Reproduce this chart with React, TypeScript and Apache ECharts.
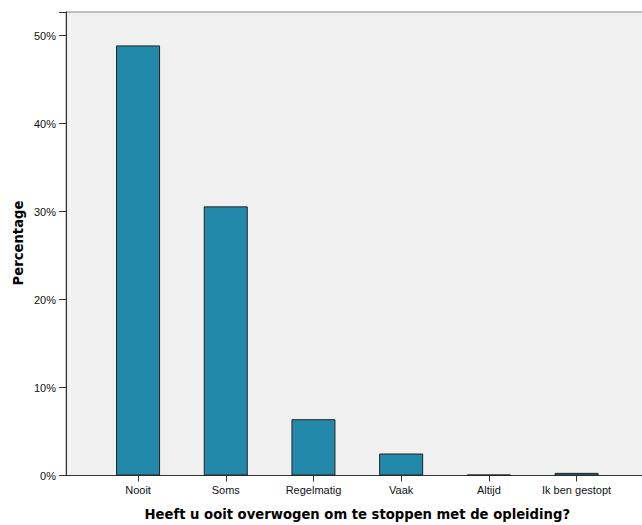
import React, { useEffect, useRef } from "react";
import * as echarts from "echarts";

const categories = ["Nooit", "Soms", "Regelmatig", "Vaak", "Altijd", "Ik ben gestopt"];
const percentages = [48.9, 30.6, 6.4, 2.5, 0.1, 0.3];
const yTicks = [0, 10, 20, 30, 40, 50];

const FONT = "'Liberation Sans', Arial, sans-serif";
const TITLE_FONT = "'DejaVu Sans', Verdana, sans-serif";

export default function App() {
  const ref = useRef<HTMLDivElement>(null);
  useEffect(() => {
    if (!ref.current) return;
    const chart = echarts.init(ref.current, null, { renderer: "svg" });
    const yMax = 52.7;
    chart.setOption({
      animation: false,
      backgroundColor: "#ffffff",
      grid: [
        {
          left: 66, top: 12, right: -3, bottom: 49.5, outerBoundsMode: "none", containLabel: false,
          show: true, backgroundColor: "#f0f0f0", borderColor: "#8a8a8a", borderWidth: 1,
        },
        { left: 94.2, top: 12, right: 21.6, bottom: 49.5, outerBoundsMode: "none", containLabel: false },
      ],
      xAxis: [
        {
          gridIndex: 0, type: "value", min: 0, max: 1,
          axisLine: { show: true, onZero: false, lineStyle: { color: "#333", width: 1 } },
          axisTick: { show: false }, axisLabel: { show: false }, splitLine: { show: false },
        },
        {
          gridIndex: 1, type: "category", data: categories,
          axisLine: { show: false },
          axisTick: { show: true, alignWithLabel: true, inside: false, length: 6, lineStyle: { color: "#333" } },
          axisLabel: { fontFamily: FONT, fontSize: 11, color: "#111", margin: 9, interval: 0 },
          name: "Heeft u ooit overwogen om te stoppen met de opleiding?",
          nameLocation: "middle", nameGap: 32,
          nameTextStyle: { fontFamily: TITLE_FONT, fontSize: 13.2, fontWeight: "bold", color: "#000" },
        },
      ],
      yAxis: [
        {
          gridIndex: 0, type: "value", min: 0, max: yMax, interval: 10,
          axisLine: { show: true, onZero: false, lineStyle: { color: "#333" } },
          axisTick: { show: true, inside: false, length: 7, lineStyle: { color: "#333" } },
          axisLabel: {
            fontFamily: FONT, fontSize: 11, color: "#111", margin: 10,
            formatter: (v: number) => (yTicks.includes(v) ? v + "%" : ""),
          },
          splitLine: { show: false },
        },
        {
          gridIndex: 1, type: "value", min: 0, max: yMax, show: false,
        },
      ],
      graphic: [
        {
          type: "text", x: 18, y: 243, rotation: Math.PI / 2,
          style: {
            text: "Percentage", fontFamily: TITLE_FONT, fontSize: 13.2, fontWeight: "bold",
            fill: "#000", align: "center", verticalAlign: "middle",
          },
        },
      ],
      series: [
        {
          type: "bar", xAxisIndex: 1, yAxisIndex: 1, data: percentages, barWidth: 44,
          itemStyle: { color: "#2389aa", borderColor: "#222", borderWidth: 1 },
        },
      ],
    });
    return () => chart.dispose();
  }, []);
  return <div ref={ref} style={{ width: 642, height: 525, position: "absolute", left: 0, top: 0 }} />;
}
